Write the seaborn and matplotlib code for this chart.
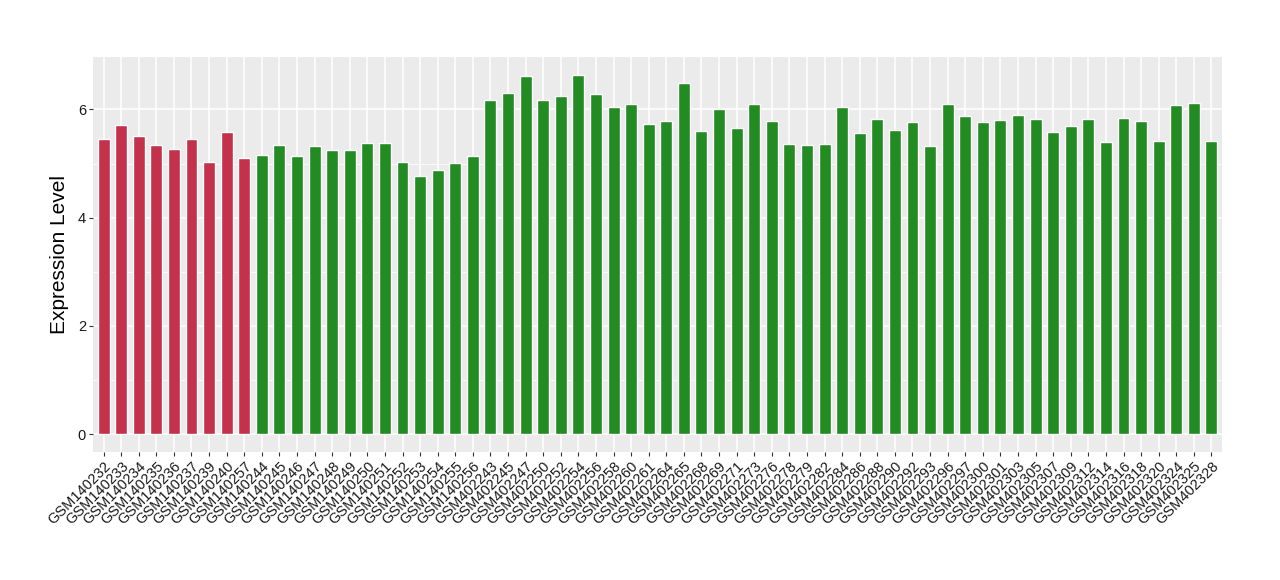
import matplotlib
matplotlib.use('Agg')
import matplotlib.pyplot as plt
from matplotlib.ticker import MultipleLocator
import seaborn as sns
import pandas as pd

# Sample names, grouped by condition
samples_a = ["GSM140232", "GSM140233", "GSM140234", "GSM140235", "GSM140236",
             "GSM140237", "GSM140239", "GSM140240", "GSM140257"]
samples_b = ["GSM140244", "GSM140245", "GSM140246", "GSM140247", "GSM140248",
             "GSM140249", "GSM140250", "GSM140251", "GSM140252", "GSM140253",
             "GSM140254", "GSM140255", "GSM140256",
             "GSM402243", "GSM402245", "GSM402247", "GSM402250", "GSM402252",
             "GSM402254", "GSM402256", "GSM402258", "GSM402260", "GSM402261",
             "GSM402264", "GSM402265", "GSM402268", "GSM402269", "GSM402271",
             "GSM402273", "GSM402276", "GSM402278", "GSM402279", "GSM402282",
             "GSM402284", "GSM402286", "GSM402288", "GSM402290", "GSM402292",
             "GSM402293", "GSM402296", "GSM402297", "GSM402300", "GSM402301",
             "GSM402303", "GSM402305", "GSM402307", "GSM402309", "GSM402312",
             "GSM402314", "GSM402316", "GSM402318", "GSM402320", "GSM402324",
             "GSM402325", "GSM402328"]

# Expression levels
values_a = [5.45, 5.71, 5.51, 5.34, 5.27, 5.45, 5.02, 5.58, 5.10]
values_b = [5.15, 5.34, 5.14, 5.32, 5.25, 5.25, 5.38, 5.38, 5.02, 4.77,
            4.88, 5.01, 5.14,
            6.17, 6.30, 6.62, 6.17, 6.25, 6.64, 6.28, 6.04, 6.10, 5.73,
            5.78, 6.49, 5.60, 6.01, 5.65, 6.10, 5.78, 5.36, 5.34, 5.36,
            6.04, 5.56, 5.82, 5.62, 5.77, 5.32, 6.10, 5.88, 5.77, 5.80,
            5.90, 5.82, 5.58, 5.69, 5.82, 5.40, 5.84, 5.78, 5.41, 6.08,
            6.12, 5.41]

GROUP_COLORS = {"A": "#C3314A", "B": "#228B22"}

df = pd.DataFrame({
    "sample": samples_a + samples_b,
    "value": values_a + values_b,
    "group": ["A"] * len(samples_a) + ["B"] * len(samples_b),
})

sns.set_theme(style="darkgrid", rc={
    "axes.facecolor": "#EBEBEB",
    "grid.color": "white",
    "axes.edgecolor": "#EBEBEB",
    "axes.linewidth": 0,
})
plt.rcParams['font.family'] = ['Liberation Sans', 'DejaVu Sans']

fig = plt.figure(figsize=(12.8, 5.8), dpi=100)
ax = fig.add_axes([93 / 1280, 1 - 452 / 580, (1222 - 93) / 1280, (452 - 57) / 580])

sns.barplot(data=df, x="sample", y="value", hue="group", palette=GROUP_COLORS,
            width=0.68, dodge=False, legend=False, saturation=1, ax=ax)

n = len(df)
ax.set_xlim(-0.6, n - 0.4)
ax.set_ylim(-0.332, 6.97)
ax.yaxis.set_major_locator(MultipleLocator(2))
ax.yaxis.set_minor_locator(MultipleLocator(1))
ax.grid(True, which="major", color="white", linewidth=1.1)
ax.grid(True, which="minor", axis="y", color="white", linewidth=0.55)
ax.set_axisbelow(True)
for s in ax.spines.values():
    s.set_visible(False)

ax.tick_params(axis="both", which="major", length=3, width=0.8, color="#333333",
               labelsize=10.5, labelcolor="#1A1A1A", pad=2, bottom=True, left=True)
ax.tick_params(axis="both", which="minor", length=0)
plt.setp(ax.get_xticklabels(), rotation=45, ha="right", rotation_mode="anchor")

ax.set_xlabel("")
ax.set_ylabel("Expression Level", fontsize=15, color="black", labelpad=6)

fig.savefig("out.png", dpi=100)
